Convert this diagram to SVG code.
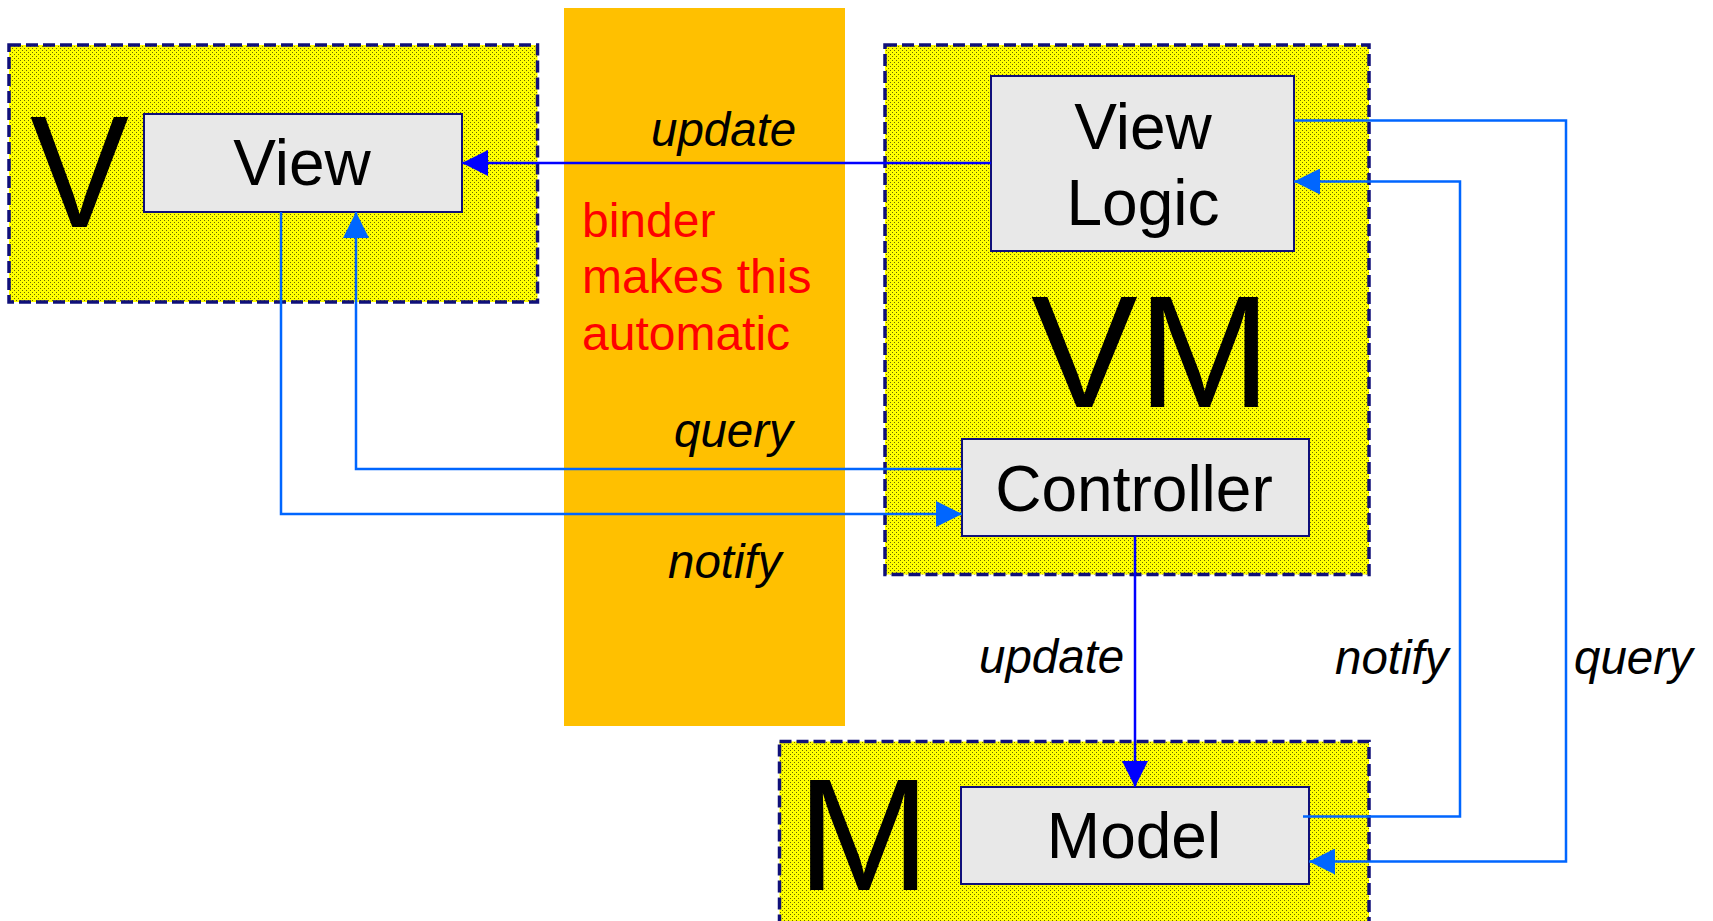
<svg xmlns="http://www.w3.org/2000/svg" width="1713" height="921" viewBox="0 0 1713 921">
<style>
.region{fill:url(#dots);stroke:#10107a;stroke-width:3.5;stroke-dasharray:12 5}
.box{fill:#e8e8e8;stroke:#10107a;stroke-width:2}
.lbl{font-family:"Liberation Sans",Arial,sans-serif;font-size:64px;fill:#000}
.big{font-family:"Liberation Sans",Arial,sans-serif;font-size:160px;fill:#000}
.it{font-family:"Liberation Sans",Arial,sans-serif;font-size:47.5px;font-style:italic;fill:#000}
.red{font-family:"Liberation Sans",Arial,sans-serif;font-size:48px;fill:#ff0000}
.c1{fill:none;stroke:#0000ff;stroke-width:2.5}
.c2{fill:none;stroke:#0066ff;stroke-width:2.5}
</style>
<defs>
<pattern id="dots" patternUnits="userSpaceOnUse" width="4" height="4">
<rect width="4" height="4" fill="#ffff00"/>
<rect x="0" y="0" width="1" height="1" fill="#6a6a00"/>
<rect x="2" y="2" width="1" height="1" fill="#6a6a00"/>
</pattern>
<marker id="a1" markerUnits="userSpaceOnUse" markerWidth="26" markerHeight="26" refX="26" refY="13" orient="auto">
<path d="M0,0 L26,13 L0,26 z" fill="#0000ff"/>
</marker>
<marker id="a2" markerUnits="userSpaceOnUse" markerWidth="26" markerHeight="26" refX="26" refY="13" orient="auto">
<path d="M0,0 L26,13 L0,26 z" fill="#0066ff"/>
</marker>
</defs>
<rect width="1713" height="921" fill="#ffffff"/>

<g id="binder">
<rect x="564" y="8" width="281" height="718" fill="#ffc000"/>
<text class="red" x="582" y="237">binder</text>
<text class="red" x="582" y="293">makes this</text>
<text class="red" x="582" y="350">automatic</text>
</g>

<g id="V-layer">
<rect class="region" x="9" y="45" width="528.5" height="257"/>
<text class="big" x="30" y="227" textLength="99" lengthAdjust="spacingAndGlyphs">V</text>
</g>
<g id="VM-layer">
<rect class="region" x="885" y="45" width="484" height="529.5"/>
<text class="big" x="1031" y="407">VM</text>
</g>
<g id="M-layer">
<rect class="region" x="779.5" y="741.5" width="589.5" height="200"/>
<text class="big" x="797" y="890">M</text>
</g>

<g id="view">
<rect class="box" x="144" y="114" width="318" height="98"/>
<text class="lbl" x="302" y="185" text-anchor="middle">View</text>
</g>
<g id="viewlogic">
<rect class="box" x="991" y="76" width="303" height="175"/>
<text class="lbl" x="1143" y="149" text-anchor="middle">View</text>
<text class="lbl" x="1143" y="225" text-anchor="middle">Logic</text>
</g>
<g id="controller">
<rect class="box" x="962" y="439" width="347" height="97"/>
<text class="lbl" x="1134" y="511" text-anchor="middle">Controller</text>
</g>
<g id="model">
<rect class="box" x="961" y="787" width="348" height="97"/>
<text class="lbl" x="1134" y="858" text-anchor="middle">Model</text>
</g>

<g id="connectors">
<path class="c1" d="M991,163 L462,163" marker-end="url(#a1)"/>
<path class="c2" d="M962,469 L356,469 L356,212" marker-end="url(#a2)"/>
<path class="c2" d="M281,212 L281,514 L962,514" marker-end="url(#a2)"/>
<path class="c1" d="M1135,536 L1135,787" marker-end="url(#a1)"/>
<path class="c2" d="M1303,816.5 L1460,816.5 L1460,181.5 L1294,181.5" marker-end="url(#a2)"/>
<path class="c2" d="M1294,120.5 L1566,120.5 L1566,861.5 L1309,861.5" marker-end="url(#a2)"/>
<text class="it" x="651" y="146">update</text>
<text class="it" x="674" y="447">query</text>
<text class="it" x="668" y="578">notify</text>
<text class="it" x="979" y="673">update</text>
<text class="it" x="1335" y="674">notify</text>
<text class="it" x="1574" y="674">query</text>
</g>
</svg>
